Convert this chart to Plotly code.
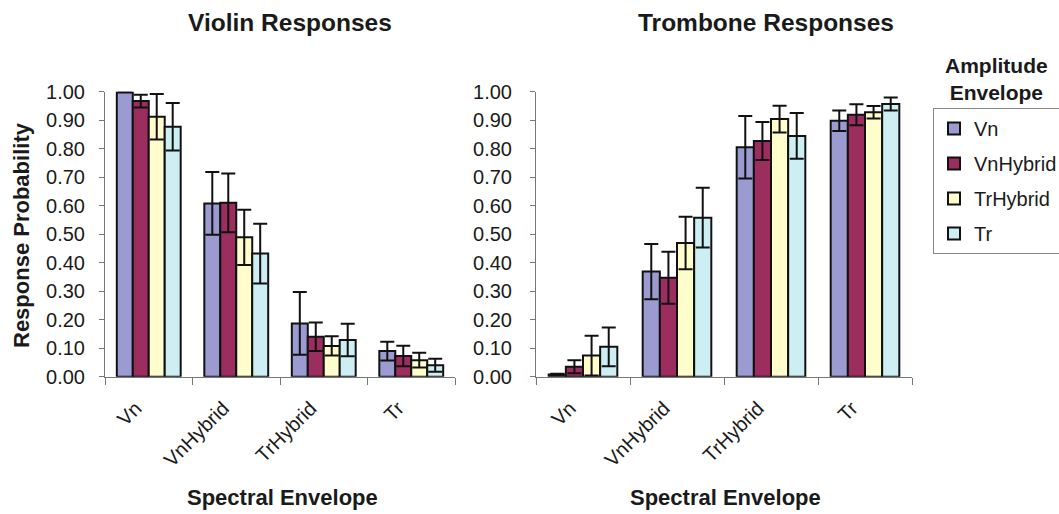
import plotly.graph_objects as go

categories = ["Vn", "VnHybrid", "TrHybrid", "Tr"]
series = ["Vn", "VnHybrid", "TrHybrid", "Tr"]
colors = ["#9B9BD2", "#9B2D5F", "#FFFDCC", "#CDEEF3"]

# Violin responses: values per amplitude envelope (series) across spectral envelope categories
violin_vn = [1.00, 0.608, 0.187, 0.090]
violin_vnhybrid = [0.967, 0.610, 0.140, 0.073]
violin_trhybrid = [0.912, 0.489, 0.108, 0.058]
violin_tr = [0.877, 0.432, 0.129, 0.040]

violin_err_vn = [0.003, 0.110, 0.110, 0.033]
violin_err_vnhybrid = [0.022, 0.103, 0.050, 0.036]
violin_err_trhybrid = [0.080, 0.097, 0.034, 0.026]
violin_err_tr = [0.083, 0.105, 0.057, 0.023]

# Trombone responses
trombone_vn = [0.008, 0.369, 0.805, 0.898]
trombone_vnhybrid = [0.035, 0.347, 0.827, 0.919]
trombone_trhybrid = [0.074, 0.469, 0.904, 0.928]
trombone_tr = [0.105, 0.558, 0.845, 0.957]

trombone_err_vn = [0.002, 0.097, 0.110, 0.036]
trombone_err_vnhybrid = [0.023, 0.091, 0.067, 0.037]
trombone_err_trhybrid = [0.070, 0.092, 0.047, 0.022]
trombone_err_tr = [0.068, 0.105, 0.080, 0.023]

yticks = [0.0, 0.1, 0.2, 0.3, 0.4, 0.5, 0.6, 0.7, 0.8, 0.9, 1.0]
ytick_labels = ["0.00", "0.10", "0.20", "0.30", "0.40", "0.50", "0.60", "0.70", "0.80", "0.90", "1.00"]

violin = [violin_vn, violin_vnhybrid, violin_trhybrid, violin_tr]
violin_err = [violin_err_vn, violin_err_vnhybrid, violin_err_trhybrid, violin_err_tr]
trombone = [trombone_vn, trombone_vnhybrid, trombone_trhybrid, trombone_tr]
trombone_err = [trombone_err_vn, trombone_err_vnhybrid, trombone_err_trhybrid, trombone_err_tr]

FONT = "Liberation Sans, Arial, sans-serif"
TXT = "#1a1a1a"

fig = go.Figure()

for i, name in enumerate(series):
    fig.add_trace(go.Bar(
        x=categories, y=violin[i], name=name, legendgroup=name,
        marker=dict(color=colors[i], line=dict(color="#111111", width=2)),
        error_y=dict(type="data", array=violin_err[i], visible=True,
                     color="#111111", thickness=2, width=7),
        xaxis="x", yaxis="y", showlegend=True,
    ))
for i, name in enumerate(series):
    fig.add_trace(go.Bar(
        x=categories, y=trombone[i], name=name, legendgroup=name,
        marker=dict(color=colors[i], line=dict(color="#111111", width=2)),
        error_y=dict(type="data", array=trombone_err[i], visible=True,
                     color="#111111", thickness=2, width=7),
        xaxis="x2", yaxis="y2", showlegend=False,
    ))

W, H = 1059, 514
ydom = [(H - 376.7) / H, (H - 91.7) / H]

xaxis_common = dict(
    type="category", range=[-0.5, 3.5], showline=True, linecolor="#777777", linewidth=1,
    ticks="outside", tickson="boundaries", ticklen=7, tickcolor="#777777",
    tickangle=-45, tickfont=dict(family=FONT, size=20, color=TXT),
    showgrid=False, zeroline=False, fixedrange=True, ticklabelstandoff=11,
    ticklabelshift=-13, automargin=False,
)
yaxis_common = dict(
    range=[0, 1.0], tickvals=yticks, ticktext=ytick_labels, showline=True,
    linecolor="#777777", linewidth=1, ticks="outside", ticklen=5, tickcolor="#777777",
    tickfont=dict(family=FONT, size=20, color=TXT), showgrid=False, zeroline=False,
    domain=ydom, fixedrange=True, automargin=False,
)

fig.update_layout(
    template="none",
    width=W, height=H, margin=dict(l=0, r=0, t=0, b=0, pad=0, autoexpand=False),
    paper_bgcolor="white", plot_bgcolor="white",
    barmode="group", bargap=0.27, bargroupgap=0,
    xaxis=dict(domain=[105 / W, 455 / W], anchor="y", **xaxis_common),
    yaxis=dict(anchor="x", ticklabelstandoff=10, **yaxis_common),
    xaxis2=dict(domain=[536 / W, 912 / W], anchor="y2", **xaxis_common),
    yaxis2=dict(anchor="x2", ticklabelstandoff=14, **yaxis_common),
    legend=dict(
        x=933 / W, y=(H - 108) / H, xanchor="left", yanchor="top",
        bordercolor="#888888", borderwidth=1, bgcolor="white",
        font=dict(family=FONT, size=20, color=TXT),
        tracegroupgap=6, traceorder="grouped", itemwidth=30,
    ),
    showlegend=True,
)

ann = [
    dict(text="<b>Violin Responses</b>", x=290 / W, y=1 - 23 / H, size=24.5),
    dict(text="<b>Trombone Responses</b>", x=766 / W, y=1 - 23 / H, size=24.5),
    dict(text="<b>Spectral Envelope</b>", x=282 / W, y=1 - 497 / H, size=22),
    dict(text="<b>Spectral Envelope</b>", x=725 / W, y=1 - 497 / H, size=22),
    dict(text="<b>Amplitude<br>Envelope</b>", x=996 / W, y=1 - 79 / H, size=21),
]
for a in ann:
    fig.add_annotation(text=a["text"], x=a["x"], y=a["y"], xref="paper", yref="paper",
                       xanchor="center", yanchor="middle", showarrow=False,
                       font=dict(family=FONT, size=a["size"], color=TXT))
fig.add_annotation(text="<b>Response Probability</b>", x=22 / W, y=1 - 235 / H,
                   xref="paper", yref="paper", xanchor="center", yanchor="middle",
                   textangle=-90, showarrow=False,
                   font=dict(family=FONT, size=22, color=TXT))

fig.write_html("out.html")
